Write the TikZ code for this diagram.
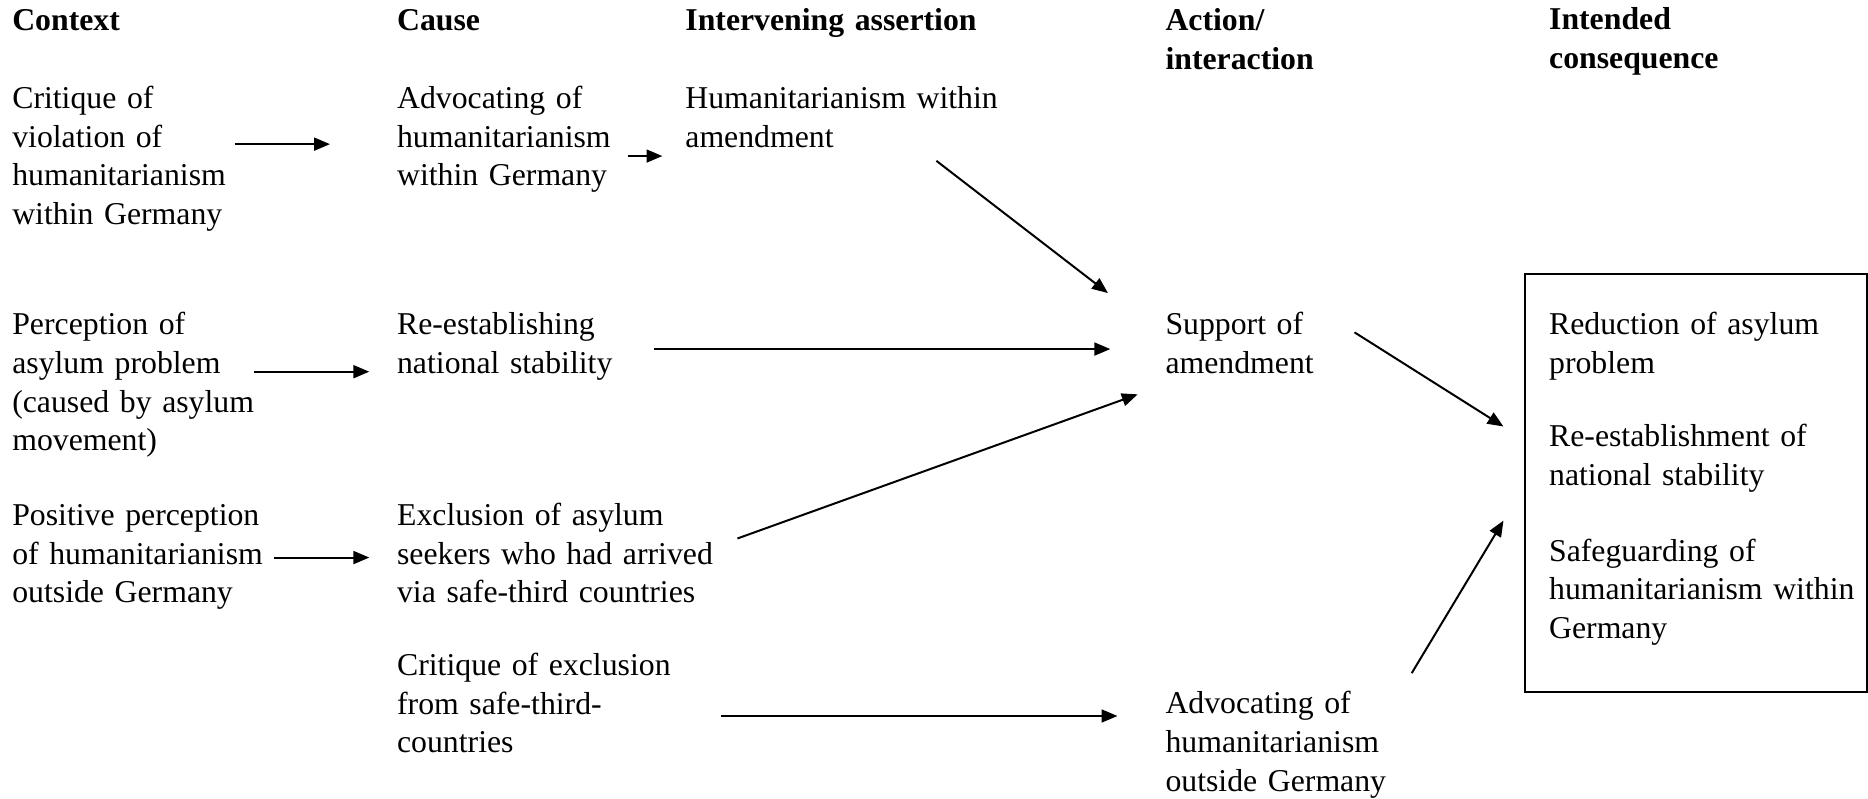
\documentclass[tikz,border=0pt]{standalone}
\usepackage{fontspec}
\setmainfont{Liberation Serif}
\usetikzlibrary{arrows.meta,calc}
\begin{document}
\begin{tikzpicture}[x=0.6pt,y=-0.6pt,
  txt/.style={anchor=base west, inner sep=0pt, align=left, text width=200pt,
    font=\fontsize{16}{19.5}\selectfont},
  head/.style={txt, font=\fontsize{16}{19.5}\selectfont\bfseries},
  arr/.style={-{Triangle[length=8pt,width=6.5pt]}, line width=1pt},
]
\useasboundingbox (0,0) rectangle (1568,670);

% column headings
\node[head] (h1) at (10,26) {Context};
\node[head] (h2) at (333,26) {Cause};
\node[head] (h3) at (575,26) {Intervening assertion};
\node[head] (h4) at (978,26) {Action/\\interaction};
\node[head] (h5) at (1300,25) {Intended\\consequence};

% context
\node[txt] (c1) at (10,91) {Critique of\\violation of\\humanitarianism\\within Germany};
\node[txt] (c2) at (10,281) {Perception of\\asylum problem\\(caused by asylum\\movement)};
\node[txt] (c3) at (10,441) {Positive perception\\of humanitarianism\\outside Germany};

% cause
\node[txt] (k1) at (333,91) {Advocating of\\humanitarianism\\within Germany};
\node[txt] (k2) at (333,281) {Re-establishing\\national stability};
\node[txt] (k3) at (333,441) {Exclusion of asylum\\seekers who had arrived\\via safe-third countries};
\node[txt] (k4) at (333,567) {Critique of exclusion\\from safe-third-\\countries};

% intervening assertion
\node[txt] (i1) at (575,91) {Humanitarianism within\\amendment};

% action / interaction
\node[txt] (a1) at (978,281) {Support of\\amendment};
\node[txt] (a2) at (978,599) {Advocating of\\humanitarianism\\outside Germany};

% intended consequences
\node[draw, line width=1pt, anchor=north west, inner sep=0pt,
      minimum width=172.2pt, minimum height=210.6pt] (box) at (1279,229) {};
\node[txt] (q1) at (1300,281) {Reduction of asylum\\problem};
\node[txt] (q2) at (1300,375) {Re-establishment of\\national stability};
\node[txt] (q3) at (1300,471) {Safeguarding of\\humanitarianism within\\Germany};

% connectors
\draw[arr] ($(c1.base west)+(187,30)$) -- ($(k1.base west)+(-56,30)$);
\draw[arr] ($(k1.base west)+(194,40)$) -- ($(i1.base west)+(-19,40)$);
\draw[arr] ($(i1.base west)+(211,44)$) -- ($(a1.base west)+(-48,-35)$);
\draw[arr] ($(c2.base west)+(203,31)$) -- ($(k2.base west)+(-23,31)$);
\draw[arr] ($(k2.base west)+(216,12)$) -- ($(a1.base west)+(-46,12)$);
\draw[arr] ($(k3.base west)+(286,11)$) -- ($(a1.base west)+(-23,50)$);
\draw[arr] ($(c3.base west)+(220,27)$) -- ($(k3.base west)+(-23,27)$);
\draw[arr] ($(k4.base west)+(272,34)$) -- ($(a2.base west)+(-40,2)$);
\draw[arr] ($(a1.base west)+(159,-2)$) -- ($(box.north west)+(-17,129)$);
\draw[arr] ($(a2.base west)+(207,-34)$) -- ($(box.north west)+(-17,208)$);
\end{tikzpicture}
\end{document}
